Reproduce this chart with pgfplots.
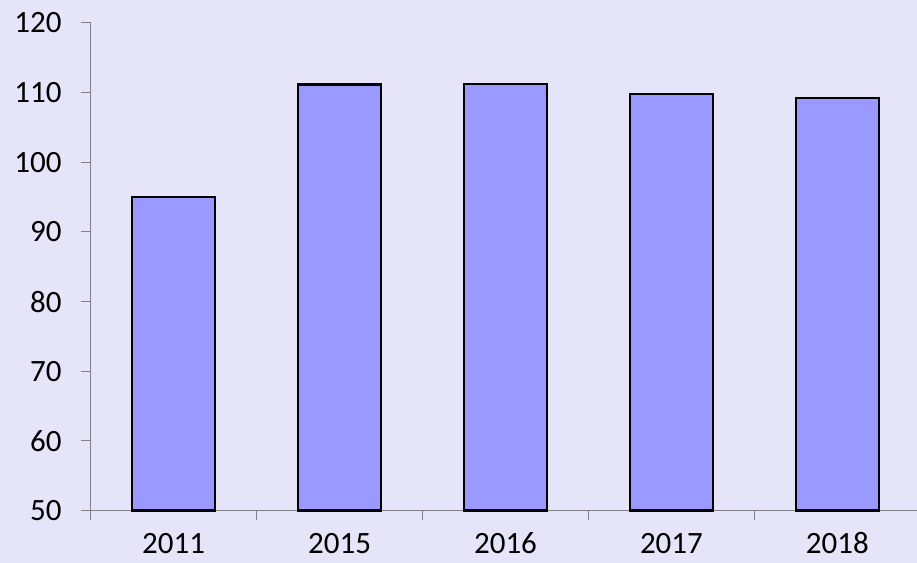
\documentclass[border=0pt]{standalone}
\usepackage{fontspec}
\setmainfont{Carlito}
\usepackage{pgfplots}
\pgfplotsset{compat=1.18}
\definecolor{bgcol}{RGB}{230,228,248}
\definecolor{barcol}{RGB}{153,153,255}
\definecolor{axcol}{RGB}{128,128,136}

\begin{document}
\begin{tikzpicture}
  \path[use as bounding box] (0,0) rectangle (458.5pt,281.5pt);
  \fill[bgcol] (0,0) rectangle (458.5pt,281.5pt);
  \begin{axis}[
      at={(45.35pt,26.15pt)}, anchor=south west,
      scale only axis,
      width=413.15pt, height=244pt,
      xmin=-0.5, xmax=4.48,
      ymin=50, ymax=120,
      ytick={50,60,...,120},
      xtick={0,1,2,3,4},
      xticklabels={2011,2015,2016,2017,2018},
      minor xtick={-0.5,0.5,1.5,2.5,3.5},
      axis x line=bottom, axis y line=left,
      axis line style={-, draw=axcol, line width=0.5pt},
      tick style={draw=axcol, line width=0.5pt},
      tick align=outside,
      major tick length=5pt,
      major x tick style={draw=none},
      minor tick length=4.5pt,
      /pgf/number format/assume math mode=true,
      /pgf/number format/1000 sep={},
      tick label style={font=\fontsize{15.5}{18}\selectfont, text=black},
      yticklabel style={xshift=-6pt},
      xticklabel style={text height=10pt, text depth=0pt, inner sep=0pt, anchor=north, yshift=-6pt},
      ybar,
      bar width=0.5,
      clip=false,
    ]
    \addplot[fill=barcol, draw=black, line width=1.3pt] coordinates {
      (0,95.0) (1,111.1) (2,111.2) (3,109.8) (4,109.2)
    };
  \end{axis}
\end{tikzpicture}
\end{document}
